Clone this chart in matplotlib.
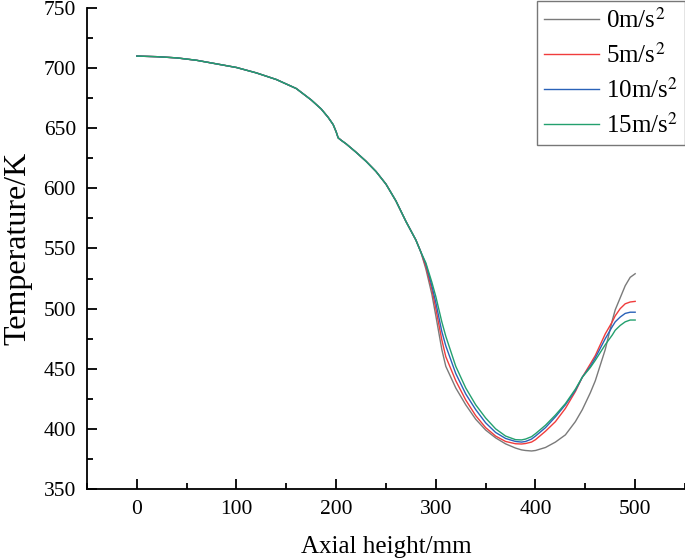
import matplotlib
matplotlib.use("Agg")
import matplotlib.pyplot as plt
from matplotlib.ticker import MultipleLocator

plt.rcParams['font.family'] = ['Liberation Serif', 'DejaVu Serif']
plt.rcParams['mathtext.fontset'] = 'stix'

# Common part (all accelerations coincide)
x_common = [0, 20, 40, 60, 80, 100, 120, 140, 160, 175, 185, 192, 197, 200, 202,
            205, 210, 220, 230, 240, 250, 260, 270, 280, 285]
t_common = [710, 709.5, 708.5, 706.5, 703.5, 700.5, 696, 690.5, 683, 673.5, 666,
            659, 653, 647, 642, 640, 637, 630, 622.5, 614, 603.5, 589.5, 572.5,
            557, 547]

x_tail = [290, 296, 300, 306, 310, 320, 330, 340, 350, 360, 370, 380, 386, 390,
          396, 400, 410, 420, 430, 440, 447, 455, 460, 470, 477, 480, 485, 490,
          495, 500]
t_tail_0 = [533, 512, 494, 466, 452, 434, 420, 408, 399, 392.5, 387.5, 384, 382.5,
            382, 381.6, 382, 384.5, 389, 395, 406, 416, 430, 440, 466, 490, 499,
            509, 519, 526, 529]
t_tail_5 = [535, 516, 500, 474, 460, 440, 424, 411, 401, 394, 389.5, 387.6, 387.4,
            387.8, 389, 391, 398, 406, 417, 431, 443, 454, 461, 479, 489, 494,
            500, 504, 505.5, 506]
t_tail_10 = [537, 519, 505, 481, 469, 446, 429, 416, 405, 397, 392, 389.5, 389,
             389.5, 391.5, 394, 401, 410, 420, 432, 443, 452, 459, 475, 485, 489,
             493, 496, 497, 497]
t_tail_15 = [538, 522, 510, 489, 477, 452, 434, 420, 409, 400, 394, 391, 390.8,
             391.5, 393.5, 396, 403, 411.5, 421, 433, 443, 451, 457, 470, 478, 482,
             486, 489, 490.5, 490.5]

labels = ['0m/s$^2$', '5m/s$^2$', '10m/s$^2$', '15m/s$^2$']
colors = ['#7a7a7a', '#f03c3c', '#2a62b8', '#23a06e']
tails = [t_tail_0, t_tail_5, t_tail_10, t_tail_15]

fig = plt.figure(figsize=(6.85, 5.58), dpi=100)
ax = fig.add_axes([0.127, 0.1237, 0.873, 0.862])

for lab, col, tail in zip(labels, colors, tails):
    ax.plot(x_common + x_tail, t_common + tail, color=col, lw=1.0, label=lab)

ax.set_xlim(-50, 550)
ax.set_ylim(350, 750)
ax.xaxis.set_major_locator(MultipleLocator(100))
ax.xaxis.set_minor_locator(MultipleLocator(50))
ax.yaxis.set_major_locator(MultipleLocator(50))
ax.yaxis.set_minor_locator(MultipleLocator(25))
ax.tick_params(which='major', direction='in', length=7, width=1.3, labelsize=15.5, pad=8)
ax.tick_params(which='minor', direction='in', length=4, width=1.3)
ax.spines['top'].set_visible(False)
ax.spines['right'].set_visible(False)
for s in ['left', 'bottom']:
    ax.spines[s].set_linewidth(1.3)

ax.set_xlabel('Axial height/mm', fontsize=18, labelpad=12)
ax.set_ylabel('Temperature/K', fontsize=23)
ax.yaxis.set_label_coords(-0.091, 0.5)

leg = ax.legend(loc='upper right', fontsize=18, frameon=True, fancybox=False,
                edgecolor='#555555', handlelength=2.2, labelspacing=0.40,
                borderaxespad=0.0, handletextpad=0.25, borderpad=0.3,
                bbox_to_anchor=(1.0, 1.015))
leg.get_frame().set_linewidth(1.0)

fig.savefig('out.png', dpi=100)
